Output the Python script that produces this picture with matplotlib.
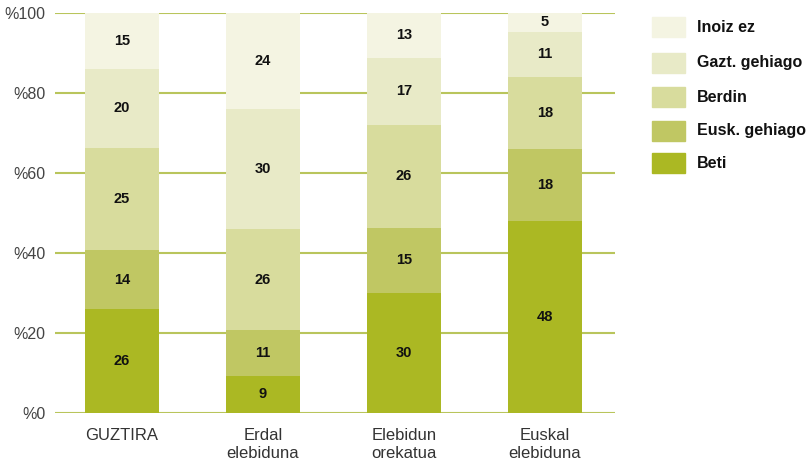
import matplotlib
matplotlib.use("Agg")
import matplotlib.pyplot as plt
from matplotlib.patches import Rectangle
import numpy as np

plt.rcParams['font.family'] = ['Liberation Sans', 'DejaVu Sans']

categories = ["GUZTIRA", "Erdal\nelebiduna", "Elebidun\norekatua", "Euskal\nelebiduna"]
series_names = ["Beti", "Eusk. gehiago", "Berdin", "Gazt. gehiago", "Inoiz ez"]
# segment heights as drawn
beti = [26, 9.3, 30.1, 48.1]
eusk = [14.75, 11.45, 16.15, 17.9]
berdin = [25.5, 25.25, 25.75, 18.1]
gazt = [19.75, 30, 16.8, 11.15]
inoiz = [14, 24, 11.2, 4.75]
# printed labels
beti_lbl = [26, 9, 30, 48]
eusk_lbl = [14, 11, 15, 18]
berdin_lbl = [25, 26, 26, 18]
gazt_lbl = [20, 30, 17, 11]
inoiz_lbl = [15, 24, 13, 5]
yticks = [0, 20, 40, 60, 80, 100]
ytick_labels = ["%0", "%20", "%40", "%60", "%80", "%100"]

colors = ["#abb823", "#c0c763", "#d8dc9d", "#e8eac7", "#f4f4e2"]
grid_color = "#b9c55c"


def main():
    fig = plt.figure(figsize=(8.1, 4.63), dpi=100)
    ax = fig.add_axes([55 / 810, 1 - 413 / 463, 560 / 810, 400 / 463])

    x = np.arange(len(categories))
    bottom = np.zeros(len(categories))
    series = [beti, eusk, berdin, gazt, inoiz]
    labels = [beti_lbl, eusk_lbl, berdin_lbl, gazt_lbl, inoiz_lbl]
    for vals, lbls, col in zip(series, labels, colors):
        vals = np.array(vals, dtype=float)
        ax.bar(x, vals, bottom=bottom, width=0.52, color=col, zorder=2)
        for xi, b, v, l in zip(x, bottom, vals, lbls):
            ax.text(xi, b + v / 2, "%d" % l, ha='center', va='center',
                    fontsize=10.5, fontweight='bold', color='#111111', zorder=3)
        bottom += vals

    for t in yticks:
        ax.axhline(t, color=grid_color, linewidth=1.5, zorder=1)

    ax.set_xlim(-0.475, 3.496)
    ax.set_ylim(0, 100)
    ax.set_yticks(yticks)
    ax.set_yticklabels(ytick_labels, fontsize=11.5, color='#444444')
    ax.set_xticks(x)
    ax.set_xticklabels(categories, fontsize=12, color='#333333', linespacing=1.25)
    ax.tick_params(axis='both', length=0)
    ax.tick_params(axis='y', pad=7)
    ax.tick_params(axis='x', pad=11)
    for s in ax.spines.values():
        s.set_visible(False)

    # legend, top to bottom
    ys = [27, 63, 97, 131, 163]
    for name, col, yp in zip(series_names[::-1], colors[::-1], ys):
        fig.patches.append(Rectangle((652 / 810, 1 - (yp + 10) / 463), 33 / 810, 20 / 463,
                                     transform=fig.transFigure, color=col))
        fig.text(697 / 810, 1 - yp / 463, name, ha='left', va='center',
                 fontsize=11.5, fontweight='bold', color='#111111')

    fig.savefig("out.png", dpi=100)


if __name__ == "__main__":
    main()
